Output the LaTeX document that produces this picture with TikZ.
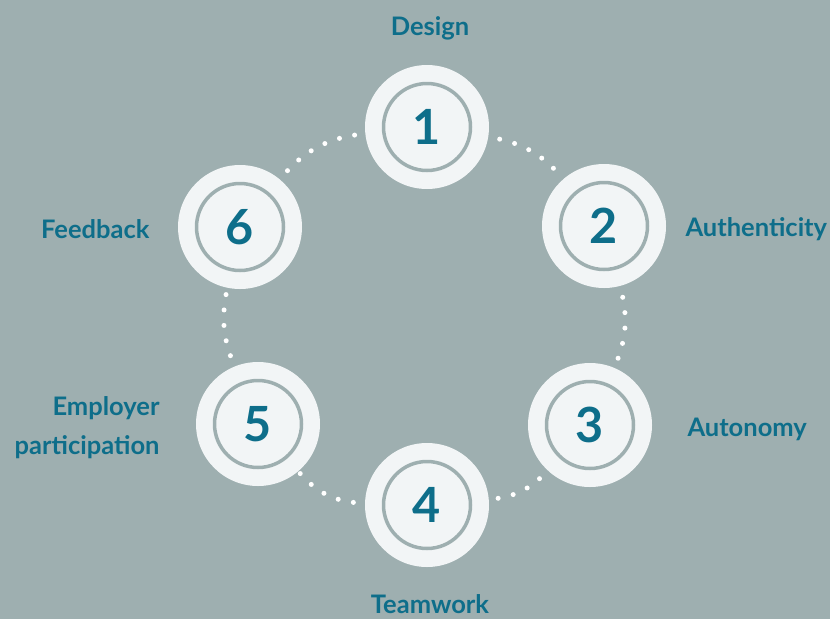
\documentclass[tikz,border=0pt]{standalone}
\usepackage{fontspec}
\setmainfont{Lato}
\definecolor{slate}{HTML}{9EAFB0}
\definecolor{petrol}{HTML}{0E6E8A}
\definecolor{disc}{HTML}{F2F5F6}
\begin{document}
\begin{tikzpicture}[x=1pt,y=1pt,
        stage/.style={circle,fill=disc,minimum size=124pt,inner sep=0pt,
            text=petrol,font=\bfseries\fontsize{48.5}{48.5}\selectfont},
        lbl/.style={text=petrol,font=\bfseries\fontsize{25.5}{39}\selectfont},
        ring/.style={draw=slate,line width=3.5pt},
        dots/.style={white,line width=5pt,line cap=round,
            dash pattern=on 0pt off 15.5pt,dash phase=4pt}]
\fill[slate] (0,0) rectangle (830,-619);
\useasboundingbox (0,0) rectangle (830,-619);

% the six stages
\node[stage] (n1) at (427,-127) {1};
\node[stage] (n2) at (604,-226) {2};
\node[stage] (n3) at (590,-425) {3};
\node[stage] (n4) at (427,-505) {4};
\node[stage] (n5) at (258,-424) {5};
\node[stage] (n6) at (240,-227) {6};
\foreach \n in {n1,n2,n3,n4,n5,n6}
    \draw[ring] (\n.center) circle (43.5);

% dotted links
\draw[dots] (n1) to[bend left=20] (n2);
\draw[dots] (n2) to[bend left=19] (n3);
\draw[dots] (n3) to[bend left=21] (n4);
\draw[dots] (n4) to[bend left=24] (n5);
\draw[dots] (n5) to[bend left=17] (n6);
\draw[dots] (n6) to[bend left=22] (n1);

% labels
\node[lbl] (design) at (430,-28) {Design};
\node[lbl,anchor=west] (authenticity) at (682,-229) {Authenticity};
\node[lbl,anchor=west] (autonomy) at (684,-429) {Autonomy};
\node[lbl] (teamwork) at (430,-604) {Teamwork};
\node[lbl,anchor=east,align=right] (employer) at (163,-428) {Employer\\participation};
\node[lbl,anchor=east] (feedback) at (153,-229) {Feedback};
\end{tikzpicture}
\end{document}
